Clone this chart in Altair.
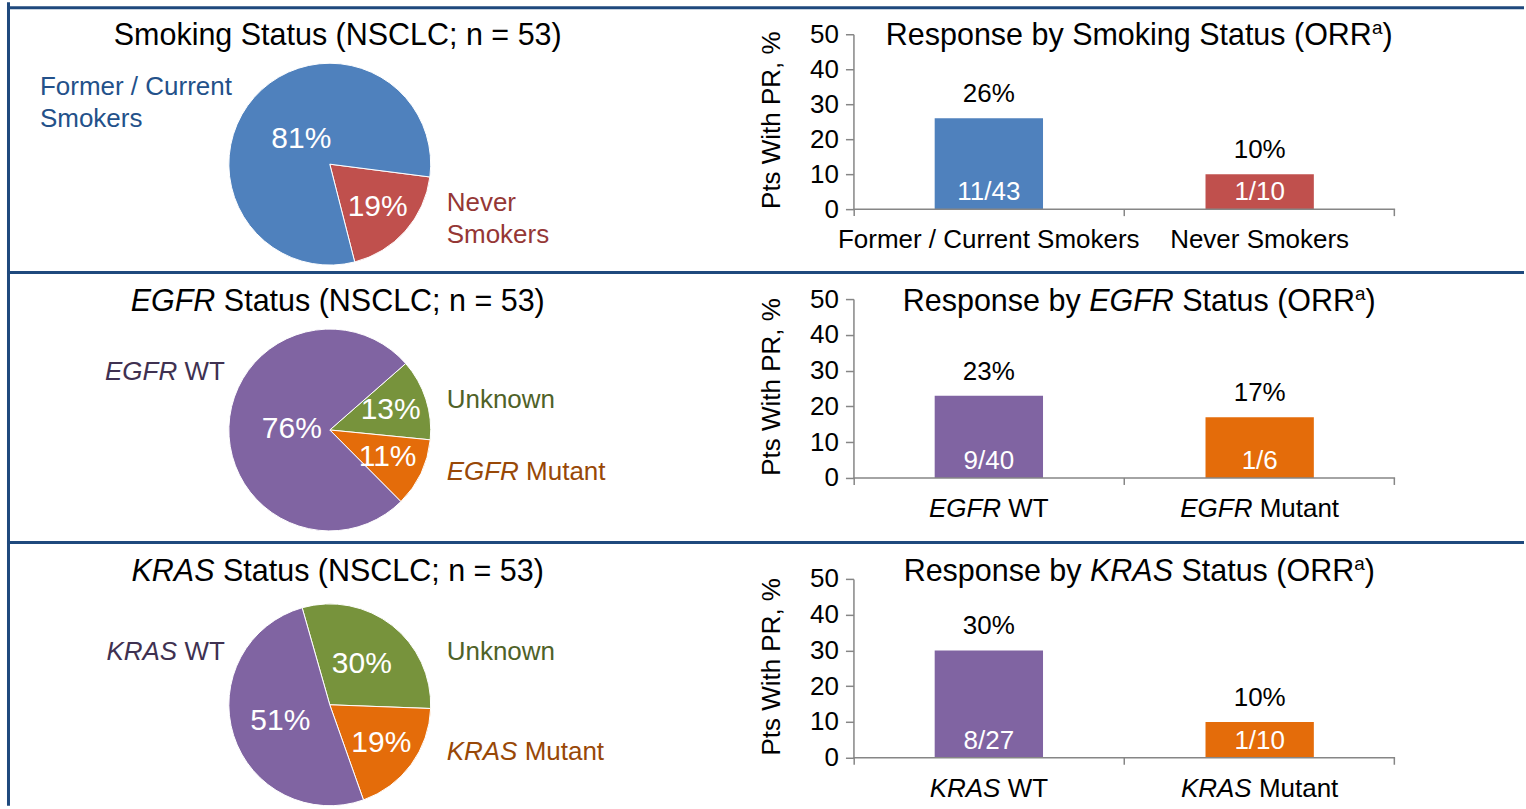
import math
import altair as alt
import pandas as pd

# ---------------------------------------------------------------- data
smoke_groups = ["Never Smokers", "Former / Current Smokers"]
smoke_pie_pct = [19, 81]
smoke_bar_cats = ["Former / Current Smokers", "Never Smokers"]
smoke_orr = [26, 10]
smoke_frac = ["11/43", "1/10"]

egfr_groups = ["Unknown", "EGFR Mutant", "EGFR WT"]
egfr_pie_pct = [13, 11, 76]
egfr_bar_cats = ["EGFR WT", "EGFR Mutant"]
egfr_orr = [23, 17]
egfr_frac = ["9/40", "1/6"]

kras_groups = ["Unknown", "KRAS Mutant", "KRAS WT"]
kras_pie_pct = [30, 19, 51]
kras_bar_cats = ["KRAS WT", "KRAS Mutant"]
kras_orr = [30, 10]
kras_frac = ["8/27", "1/10"]

# ---------------------------------------------------------------- style
FONT = "Liberation Sans"
FRAME = "#1F497D"
AXIS_GREY = "#868686"
BLUE, RED = "#4F81BD", "#C0504D"
PURPLE, GREEN, ORANGE = "#8064A2", "#77933C", "#E46C0A"
TXT_BLUE, TXT_RED = "#23518A", "#953735"
TXT_PURPLE, TXT_GREEN, TXT_ORANGE = "#3F3151", "#4F6228", "#984807"

PIE_W = 854          # pie panel width; bar panel starts right after it
BAR_W = 542
PIE_R = 101
TITLE_SIZE = 30.5
ONE = pd.DataFrame({"k": [0]})

# Arial / Liberation Sans advance widths, 1/1000 em
ADV = {" ": 278, "%": 889, "(": 333, ")": 333, ",": 278, "/": 278, ";": 278,
       "=": 584, "A": 667, "B": 667, "C": 722, "D": 722, "E": 667, "F": 611,
       "G": 778, "H": 722, "I": 278, "K": 667, "L": 556, "M": 833, "N": 722,
       "O": 778, "P": 667, "R": 722, "S": 667, "T": 611, "U": 722, "W": 944,
       "a": 556, "b": 556, "c": 500, "d": 556, "e": 556, "g": 556, "h": 556,
       "i": 222, "k": 500, "l": 222, "m": 833, "n": 556, "o": 556, "p": 556,
       "r": 333, "s": 500, "t": 278, "u": 556, "v": 500, "w": 722, "y": 500}
for d in "0123456789":
    ADV[d] = 556


def text_w(s, size):
    return sum(ADV.get(c, 556) for c in s) * size / 1000.0


def layout_segments(segs, size):
    """Split rich text into runs with their left offsets.
    Each seg is (text, style) with style 'n' normal, 'i' italic, 's' superscript."""
    out, x = [], 0.0
    for txt, style in segs:
        sz = size * 0.62 if style == "s" else size
        lead = len(txt) - len(txt.lstrip(" "))
        x += text_w(txt[:lead], sz)
        body = txt.lstrip(" ")
        out.append((body, style, x, sz))
        x += text_w(body, sz)
    return out, x


def rich_text(segs, x, y, size, color, anchor="center"):
    parts, total = layout_segments(segs, size)
    x0 = {"center": x - total / 2, "right": x - total, "left": x}[anchor]
    layers = []
    for body, style, off, sz in parts:
        layers.append(
            alt.Chart(ONE).mark_text(
                text=body, align="left", baseline="middle", font=FONT,
                fontSize=sz, fontStyle="italic" if style == "i" else "normal",
                color=color,
            ).encode(x=alt.value(x0 + off),
                     y=alt.value(y - (size * 0.27 if style == "s" else 0)))
        )
    return layers


def frame_lines(height, top_y):
    left = alt.Chart(ONE).mark_rule(color=FRAME, strokeWidth=3).encode(
        x=alt.value(8.5), y=alt.value(0), y2=alt.value(height))
    top = alt.Chart(ONE).mark_rule(color=FRAME, strokeWidth=3).encode(
        x=alt.value(7), x2=alt.value(1525), y=alt.value(top_y))
    return [left, top]


def pie_panel(groups, pcts, fills, start_deg, center, height, top_y,
              title_segs, title_y, labels):
    df = pd.DataFrame({"group": groups, "pct": pcts, "fill": fills,
                       "ord": list(range(len(groups)))})
    start = math.radians(start_deg)
    tscale = alt.Scale(domain=[0, 100], range=[start, start + 2 * math.pi])
    cx, cy = center
    arcs = alt.Chart(df).mark_arc(
        radius=PIE_R, stroke="#FFFFFF", strokeWidth=1
    ).encode(
        theta=alt.Theta("pct:Q", stack=True, scale=tscale),
        order=alt.Order("ord:Q"),
        color=alt.Color("fill:N", scale=None),
        x=alt.value(cx), y=alt.value(cy),
    )
    # percentage labels sit at each slice's mid angle; big slices keep
    # their label closer to the centre
    pct_txt = alt.Chart(df).transform_window(
        cum="sum(pct)", sort=[alt.SortField("ord")],
        frame=[None, 0],
    ).transform_calculate(
        mid="datum.cum - datum.pct / 2",
        lbl="datum.pct + '%'",
        lr="datum.pct >= 70 ? 38 : (datum.pct >= 25 ? 52 : 64)",
    ).mark_text(font=FONT, fontSize=30, color="#FFFFFF", baseline="middle").encode(
        theta=alt.Theta("mid:Q", scale=tscale, stack=None),
        radius=alt.Radius("lr:Q", scale=None),
        text="lbl:N",
        x=alt.value(cx), y=alt.value(cy),
    )
    layers = frame_lines(height, top_y) + [arcs, pct_txt]
    layers += rich_text(title_segs, 338, title_y, TITLE_SIZE, "#000000")
    for segs, x, y, color, anchor in labels:
        layers += rich_text(segs, x, y, 26, color, anchor)
    return alt.layer(*layers).properties(width=PIE_W, height=height)


def bar_panel(cats, cat_segs, orr, frac, fills, y0, y50, height,
              title_segs, title_y):
    df = pd.DataFrame({"cat": cats, "orr": orr, "frac": frac, "fill": fills})
    xs = alt.Scale(domain=cats, paddingInner=0, paddingOuter=0)
    ys = alt.Scale(domain=[0, 50], range=[y0, y50], nice=False, zero=True)
    xenc = alt.X("cat:N", scale=xs, axis=None, sort=cats)

    yaxis = alt.Axis(
        values=[0, 10, 20, 30, 40, 50], title="Pts With PR, %", grid=False,
        domainColor=AXIS_GREY, domainWidth=1.5, tickColor=AXIS_GREY,
        tickWidth=1.5, tickSize=8, labelFont=FONT, labelFontSize=26,
        labelColor="#000000", labelPadding=7, labelFlush=False,
        labelOverlap=False, titleFont=FONT, titleFontSize=26,
        titleFontWeight="normal", titleColor="#000000", titleAngle=270,
        titleX=-82, titleY=(y0 + y50) / 2 - 2, titleAlign="center",
        titleBaseline="middle",
    )
    bars = alt.Chart(df).mark_bar(width=alt.RelativeBandSize(0.4)).encode(
        x=xenc,
        y=alt.Y("orr:Q", scale=ys, axis=yaxis),
        color=alt.Color("fill:N", scale=None),
    )
    top_lbl = alt.Chart(df).transform_calculate(lbl="datum.orr + '%'").mark_text(
        font=FONT, fontSize=26, color="#000000", baseline="middle", dy=-24,
    ).encode(x=xenc, y=alt.Y("orr:Q", scale=ys), text="lbl:N")
    in_lbl = alt.Chart(df).mark_text(
        font=FONT, fontSize=26, color="#FFFFFF", baseline="middle", dy=-17,
    ).encode(x=xenc, y=alt.datum(0), text="frac:N")
    baseline = alt.Chart(ONE).mark_rule(color=AXIS_GREY, strokeWidth=1.5).encode(
        x=alt.value(0), x2=alt.value(BAR_W), y=alt.value(y0))
    ticks = [
        alt.Chart(ONE).mark_rule(color=AXIS_GREY, strokeWidth=1.5).encode(
            x=alt.value(v), y=alt.value(y0), y2=alt.value(y0 + 7))
        for v in (0.75, BAR_W / 2, BAR_W - 0.75)
    ]
    layers = [bars, top_lbl, in_lbl, baseline] + ticks

    # category labels, possibly with an italic gene name
    for cat, segs in zip(cats, cat_segs):
        parts, total = layout_segments(segs, 26)
        for body, style, off, sz in parts:
            layers.append(
                alt.Chart(df).transform_filter(alt.datum.cat == cat).mark_text(
                    text=body, align="left", baseline="middle", font=FONT,
                    fontSize=sz, fontStyle="italic" if style == "i" else "normal",
                    color="#000000", dx=off - total / 2, dy=31,
                ).encode(x=xenc, y=alt.datum(0))
            )
    layers += rich_text(title_segs, 286, title_y, TITLE_SIZE, "#000000")
    return alt.layer(*layers).properties(width=BAR_W, height=height)


# ---------------------------------------------------------------- panels
pie1 = pie_panel(
    smoke_groups, smoke_pie_pct, [RED, BLUE], 97.3, (330, 162), 270, 5.5,
    [("Smoking Status (NSCLC; n = 53)", "n")], 34,
    [
        ([("Former / Current", "n")], 40, 85, TXT_BLUE, "left"),
        ([("Smokers", "n")], 40, 117, TXT_BLUE, "left"),
        ([("Never", "n")], 447, 201, TXT_RED, "left"),
        ([("Smokers", "n")], 447, 233, TXT_RED, "left"),
    ],
)
bar1 = bar_panel(
    smoke_bar_cats,
    [[("Former / Current Smokers", "n")], [("Never Smokers", "n")]],
    smoke_orr, smoke_frac, [BLUE, RED], 207, 32, 270,
    [("Response by Smoking Status (ORR", "n"), ("a", "s"), (")", "n")], 34,
)

pie2 = pie_panel(
    egfr_groups, egfr_pie_pct, [GREEN, ORANGE, PURPLE], 48.8, (330, 158), 270, 0.5,
    [("EGFR", "i"), (" Status (NSCLC; n = 53)", "n")], 30,
    [
        ([("EGFR", "i"), (" WT", "n")], 225, 100, TXT_PURPLE, "right"),
        ([("Unknown", "n")], 447, 128, TXT_GREEN, "left"),
        ([("EGFR", "i"), (" Mutant", "n")], 447, 200, TXT_ORANGE, "left"),
    ],
)
bar2 = bar_panel(
    egfr_bar_cats,
    [[("EGFR", "i"), (" WT", "n")], [("EGFR", "i"), (" Mutant", "n")]],
    egfr_orr, egfr_frac, [PURPLE, ORANGE], 206, 27, 270,
    [("Response by ", "n"), ("EGFR", "i"), (" Status (ORR", "n"), ("a", "s"), (")", "n")], 30,
)

pie3 = pie_panel(
    kras_groups, kras_pie_pct, [GREEN, ORANGE, PURPLE], -15.9, (330, 163), 264, 0.5,
    [("KRAS", "i"), (" Status (NSCLC; n = 53)", "n")], 30,
    [
        ([("KRAS", "i"), (" WT", "n")], 225, 110, TXT_PURPLE, "right"),
        ([("Unknown", "n")], 447, 110, TXT_GREEN, "left"),
        ([("KRAS", "i"), (" Mutant", "n")], 447, 210, TXT_ORANGE, "left"),
    ],
)
bar3 = bar_panel(
    kras_bar_cats,
    [[("KRAS", "i"), (" WT", "n")], [("KRAS", "i"), (" Mutant", "n")]],
    kras_orr, kras_frac, [PURPLE, ORANGE], 216, 37, 264,
    [("Response by ", "n"), ("KRAS", "i"), (" Status (ORR", "n"), ("a", "s"), (")", "n")], 30,
)

chart = alt.concat(
    pie1, bar1, pie2, bar2, pie3, bar3,
    columns=2, spacing=0, bounds="flush",
).configure(padding=0, background="#FFFFFF").configure_view(stroke=None)

chart.save("out.html", embed_options={"renderer": "svg", "actions": False})
